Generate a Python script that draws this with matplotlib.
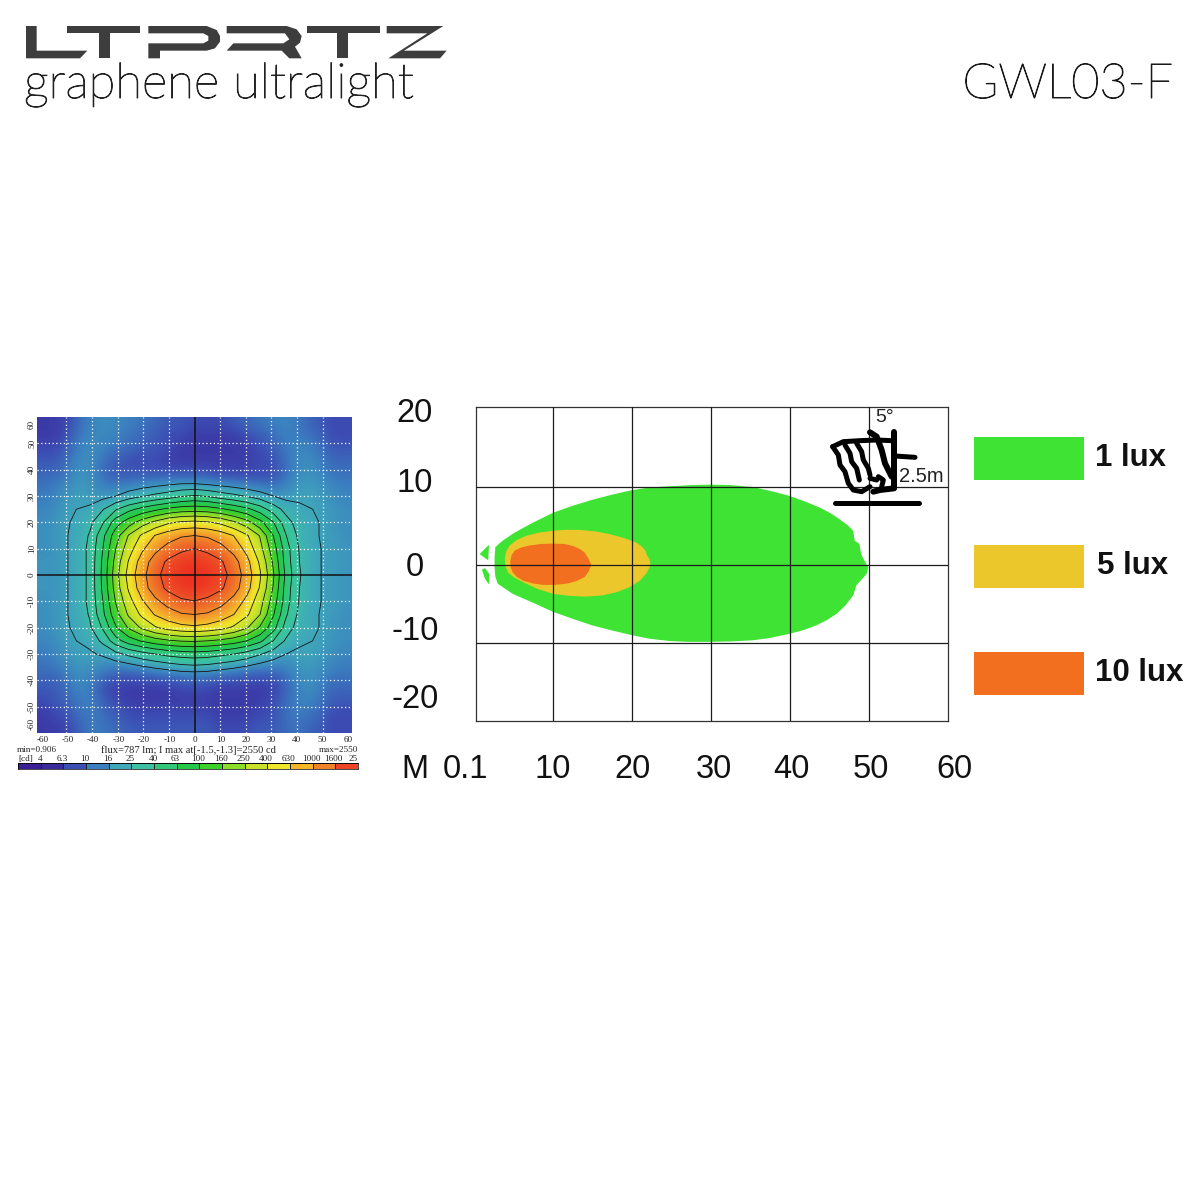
import numpy as np
import matplotlib
matplotlib.use('Agg')
import matplotlib.pyplot as plt
import matplotlib.patheffects as pe
from matplotlib.colors import LinearSegmentedColormap, Normalize, ListedColormap
from matplotlib.patches import Polygon, Rectangle

# candela map, every 5 degrees, top row y=60, left column x=-60
cd_rows = [
    [5, 5, 6, 9, 11, 12, 11, 10, 9, 8, 7, 7, 6, 6, 6, 7, 8, 9, 10, 11, 10, 8, 7, 6, 6],
    [5, 5, 7, 10, 11, 11, 10, 9, 8, 7, 6, 6, 5, 5, 5, 5, 6, 7, 8, 10, 10, 9, 8, 6, 6],
    [6, 6, 8, 11, 12, 10, 9, 8, 7, 7, 6, 5, 5, 5, 5, 5, 5, 6, 7, 9, 11, 11, 9, 7, 7],
    [7, 7, 9, 12, 11, 8, 7, 6, 6, 6, 5, 5, 5, 5, 5, 5, 5, 6, 6, 8, 11, 12, 10, 8, 8],
    [8, 8, 10, 13, 11, 8, 7, 7, 7, 7, 7, 7, 7, 7, 6, 6, 6, 6, 6, 8, 11, 13, 11, 9, 9],
    [9, 10, 12, 14, 12, 10, 10, 11, 12, 13, 14, 15, 15, 14, 13, 12, 11, 10, 9, 10, 13, 14, 13, 11, 10],
    [10, 11, 14, 15, 14, 14, 16, 20, 24, 28, 32, 38, 42, 38, 32, 28, 24, 20, 16, 14, 15, 16, 14, 12, 11],
    [11, 12, 15, 16, 17, 24, 38, 55, 72, 90, 110, 125, 130, 125, 108, 88, 70, 50, 32, 21, 17, 16, 15, 13, 12],
    [12, 13, 15, 17, 22, 38, 80, 130, 200, 280, 370, 430, 450, 420, 360, 270, 190, 115, 65, 30, 20, 17, 15, 13, 12],
    [12, 13, 15, 18, 26, 55, 130, 260, 430, 640, 810, 950, 1000, 940, 800, 620, 420, 240, 100, 40, 22, 17, 15, 14, 12],
    [12, 13, 15, 18, 28, 62, 160, 330, 580, 880, 1180, 1450, 1600, 1420, 1150, 850, 540, 290, 125, 48, 24, 18, 15, 14, 13],
    [13, 13, 15, 18, 28, 68, 190, 420, 780, 1250, 1750, 2100, 2250, 2050, 1700, 1200, 720, 370, 150, 50, 25, 18, 15, 14, 13],
    [13, 13, 15, 18, 28, 70, 210, 480, 860, 1400, 1950, 2350, 2550, 2300, 1900, 1350, 800, 420, 170, 55, 26, 18, 15, 14, 13],
    [13, 13, 15, 18, 28, 68, 195, 430, 800, 1280, 1780, 2150, 2300, 2080, 1720, 1220, 740, 380, 155, 50, 25, 18, 15, 14, 13],
    [12, 13, 15, 18, 28, 62, 165, 340, 600, 900, 1200, 1480, 1580, 1430, 1160, 860, 550, 300, 130, 48, 24, 18, 15, 14, 13],
    [12, 13, 15, 18, 26, 56, 135, 270, 440, 650, 820, 960, 1000, 950, 810, 630, 430, 250, 105, 42, 22, 17, 15, 14, 12],
    [12, 13, 15, 17, 23, 42, 95, 170, 270, 380, 480, 550, 580, 540, 470, 370, 260, 150, 75, 32, 20, 17, 15, 13, 12],
    [11, 12, 15, 16, 18, 28, 52, 80, 105, 130, 150, 165, 170, 160, 145, 125, 100, 70, 40, 23, 17, 16, 15, 13, 12],
    [10, 11, 14, 15, 15, 17, 22, 28, 34, 40, 46, 50, 52, 50, 45, 40, 33, 26, 20, 16, 15, 16, 14, 12, 11],
    [9, 10, 12, 14, 13, 12, 12, 13, 15, 17, 19, 21, 22, 21, 19, 17, 15, 13, 12, 11, 13, 14, 13, 11, 10],
    [8, 8, 10, 12, 10, 8, 7, 7, 7, 8, 8, 9, 9, 9, 8, 8, 7, 7, 7, 8, 11, 13, 11, 9, 9],
    [7, 7, 9, 11, 9, 6, 5, 5, 5, 5, 5, 6, 6, 6, 5, 5, 5, 5, 5, 7, 10, 12, 10, 8, 8],
    [6, 7, 8, 10, 10, 7, 6, 5, 5, 5, 5, 5, 5, 5, 5, 5, 5, 5, 6, 8, 10, 11, 9, 7, 7],
    [5, 6, 7, 9, 10, 8, 7, 6, 6, 6, 6, 6, 6, 6, 5, 5, 5, 6, 6, 8, 10, 9, 8, 6, 6],
    [5, 5, 6, 8, 10, 9, 8, 7, 7, 7, 7, 7, 7, 7, 6, 6, 6, 7, 7, 8, 9, 8, 7, 6, 6],
]
cd_levels = [4, 6.3, 10, 16, 25, 40, 63, 100, 160, 250, 400, 630, 1000, 1600, 2550]
level_colors = ['#3a2a9c', '#3c4fb4', '#3b7fc0', '#3fa8ba', '#3cc2a2', '#30c87a',
                '#24c94a', '#3ed02a', '#8ddc28', '#c8e22a', '#f0e62a', '#f6b62a',
                '#f0822a', '#ee5228', '#ec2c20']
bar_colors = ['#3a1f98', '#3a2a9c', '#3c4fb4', '#3b7fc0', '#3fa8ba', '#3cc2a2', '#30c87a',
              '#24c94a', '#3ed02a', '#8ddc28', '#c8e22a', '#f0e62a', '#f6b62a',
              '#f0822a', '#ee4428']

# illuminance outlines, x in metres, y in metres
lux1_x = [2.7, 3.6, 4.9, 6.2, 7.5, 10, 12.5, 15.1, 17.6, 20, 22.3, 24.8, 27.5, 30, 32.5, 35.3, 37.7, 40, 42, 43.8, 45.2,
          46.3, 47.3, 48, 48.2, 48.8, 49, 49.4, 49.9, 49.7, 48.4, 48, 47, 45.9, 44.7, 43.3, 41.7, 40, 37.5, 35.3,
          32.5, 30, 27, 24.8, 22.2, 20, 17.5, 15, 12.5, 10, 7.5, 4.9, 3, 2.7, 2.6, 2.6]
lux1_y = [2.3, 3.1, 4.0, 4.75, 5.45, 6.7, 7.6, 8.4, 9.05, 9.6, 9.95, 10.1, 10.25, 10.3, 10.25, 10, 9.45, 8.85, 8.1, 7.35,
          6.6, 5.85, 5.1, 4.4, 3.1, 2.7, 1.4, 0.6, -0.3, -1.15, -2.6, -3.9, -5.2, -6.25, -7.05, -7.75, -8.35, -8.8, -9.35,
          -9.65, -9.8, -9.85, -9.85, -9.75, -9.45, -9, -8.4, -7.75, -6.9, -6, -4.85, -3.7, -2.4, -1.5, -0.3, 1]
wedge_up_x = [1.9, 0.7, 1.8]
wedge_up_y = [2.6, 1.4, 0.6]
wedge_down_x = [1.0, 1.4, 1.9, 1.9, 1.4]
wedge_down_y = [-0.6, -0.4, -1.1, -2.5, -1.8]
lux5_x = [3.9, 4.05, 4.5, 5.4, 6.6, 8.2, 10, 11.7, 13.4, 15.4, 17.2, 19, 20.5, 21.2, 21.7, 21.9, 22.2, 22.3, 22.2, 21.8,
          21, 19.7, 18, 16.2, 14.2, 12, 10, 8, 6.2, 5, 4.3, 3.95]
lux5_y = [0.8, 1.7, 2.5, 3.2, 3.75, 4.15, 4.4, 4.52, 4.5, 4.3, 3.95, 3.45, 2.9, 2.4, 1.85, 1.2, 0.8, 0.2, -0.3, -1.1,
          -2, -2.85, -3.5, -3.9, -4.05, -3.95, -3.7, -3.05, -2.2, -1.55, -0.95, -0.1]
lux10_x = [4.6, 4.75, 5.15, 6, 7, 8.5, 10, 11.4, 12.5, 13.4, 14, 14.5, 14.85, 14.5, 14, 13, 11.7, 10.2, 8.7, 7.4, 6.2,
           5.4, 4.9, 4.6]
lux10_y = [0.55, 1.25, 1.85, 2.25, 2.5, 2.7, 2.75, 2.7, 2.45, 2.05, 1.6, 0.8, 0, -0.85, -1.55, -2.05, -2.4, -2.55,
           -2.55, -2.35, -2, -1.5, -0.95, -0.2]
legend_labels = ['1 lux', '5 lux', '10 lux']
legend_colors = ['#3fe333', '#ebc72b', '#f26f1f']
dist_labels = ['M', '0.1', '10', '20', '30', '40', '50', '60']
height_labels = ['20', '10', '0', '-10', '-20']

W = 1200
fig = plt.figure(figsize=(12, 12), dpi=100, facecolor='white')


def px_axes(left, top, right, bottom, **kw):
    return fig.add_axes([left / W, 1 - bottom / W, (right - left) / W, (bottom - top) / W], **kw)


# overlay in picture pixels for logo, labels and the little icon
ov = px_axes(0, 0, W, W)
ov.set_xlim(0, W)
ov.set_ylim(W, 0)
ov.axis('off')
ov.set_zorder(5)

# left panel
ax = px_axes(37, 417, 352, 733)
log_cd = np.log10(np.array(cd_rows, dtype=float))
grid = np.arange(-60, 65, 5)
stops = (np.log10(cd_levels) - np.log10(4)) / (np.log10(2550) - np.log10(4))
cmap = LinearSegmentedColormap.from_list('cd', list(zip(stops, level_colors)))
ax.imshow(log_cd, extent=[-61.5, 61.5, -60, 60], origin='upper', cmap=cmap,
          norm=Normalize(np.log10(4), np.log10(2550)), interpolation='bicubic', aspect='auto')
ax.contour(grid * 61.5 / 60, grid[::-1], log_cd, levels=np.log10(cd_levels[3:-1]),
           colors='#141414', linewidths=0.6)
for v in range(-50, 60, 10):
    if v != 0:
        ax.axvline(v, color='white', lw=0.9, ls=(0, (1, 2)))
        ax.axhline(v, color='white', lw=0.9, ls=(0, (1, 2)))
ax.axvline(0, color='#111111', lw=1.1)
ax.axhline(0, color='#111111', lw=1.1)
ax.set_xlim(-61.5, 61.5)
ax.set_ylim(-60, 60)
ax.set_xticks([])
ax.set_yticks([])
for s in ax.spines.values():
    s.set_visible(False)

small = dict(family='Liberation Serif', fontsize=6.6, color='#222222')
for v in range(-60, 70, 10):
    ov.text(195 + v * 2.545, 740, str(v), ha='center', va='center', **small)
    # the end labels sit pulled inside the frame
    ypos = 575 - v * 2.63
    if abs(v) == 60:
        ypos = 424 if v > 0 else 724
    ov.text(32, ypos, str(v), ha='center', va='center', rotation=90, **small)
ov.text(17, 750, 'min=0.906', ha='left', va='center', **small)
ov.text(101, 750, 'flux=787 lm; I max at[-1.5,-1.3]=2550 cd', ha='left', va='center',
        family='Liberation Serif', fontsize=7.6, color='#222222')
ov.text(358, 750, 'max=2550', ha='right', va='center', **small)
ov.text(18, 759, '[cd]', ha='left', va='center', **small)
for i, v in enumerate(cd_levels):
    lab = '%g' % v if v != 2550 else '25'
    ov.text(40 + i * 22.6 if v != 2550 else 353, 759, lab, ha='center', va='center', **small)

cb = px_axes(18, 763, 358, 769)
cb.pcolormesh(np.arange(16), [0, 1], np.arange(15).reshape(1, 15),
              cmap=ListedColormap(bar_colors), edgecolors='#222222', linewidth=0.4)
cb.set_xticks([])
cb.set_yticks([])
for s in cb.spines.values():
    s.set_linewidth(0.5)

# right panel
ax2 = px_axes(476, 407, 948, 721)
ax2.fill(lux1_x, lux1_y, color=legend_colors[0], lw=0)
ax2.fill(wedge_up_x, wedge_up_y, color=legend_colors[0], lw=0)
ax2.fill(wedge_down_x, wedge_down_y, color=legend_colors[0], lw=0)
ax2.fill(lux5_x, lux5_y, color=legend_colors[1], lw=0)
ax2.fill(lux10_x, lux10_y, color=legend_colors[2], lw=0)
ax2.set_xlim(0.25, 60)
ax2.set_ylim(-20, 20.26)
ax2.set_xticks(range(10, 60, 10))
ax2.set_yticks([-10, 0, 10])
ax2.grid(True, color='#1c1c1c', lw=0.9)
ax2.set_axisbelow(False)
ax2.tick_params(length=0, labelbottom=False, labelleft=False)
for s in ax2.spines.values():
    s.set_color('#333333')
    s.set_linewidth(0.9)

big = dict(family='Liberation Sans', fontsize=23.5, color='#111111')
for lab, x in zip(dist_labels, [415, 466, 553, 632, 714, 791, 871, 954]):
    ov.text(x, 770, lab, ha='center', va='center', **big)
for lab, y in zip(height_labels, [413, 484, 567, 632, 699]):
    ov.text(415, y, lab, ha='center', va='center', **big)

# legend
for lab, col, top, tx in zip(legend_labels, legend_colors, [437, 545, 652], [1095, 1097, 1095]):
    ov.add_patch(Rectangle((974, top), 109.5, 43, color=col, lw=0))
    ov.text(tx, top + 21, lab, ha='left', va='center', family='Liberation Sans',
            fontweight='bold', fontsize=22.5, color='#111111')

# icon
icon_lines = [
    ([45, 297], [308, 308], 5),
    ([222, 222], [95, 265], 6),
    ([225, 285], [168, 172], 5),
    ([150, 170, 185, 195, 215], [97, 110, 150, 190, 230], 6),
    ([38, 70, 120, 170, 215], [140, 125, 122, 120, 122], 5),
    ([38, 55, 60, 75, 85, 100, 125, 150], [140, 165, 195, 215, 250, 270, 275, 260], 5),
    ([75, 90, 95, 110, 118], [135, 160, 185, 205, 240], 5),
    ([110, 125, 130, 145, 150], [130, 155, 180, 205, 225], 5),
    ([160, 180, 222], [275, 270, 265], 6),
    ([175, 190, 185], [230, 240, 260], 5),
    ([150, 170], [235, 240], 5),
]
for xs, ys, w in icon_lines:
    ov.plot(820 + np.array(xs) / 3, 400 + np.array(ys) / 3, color='black', lw=w * 0.72,
            solid_capstyle='round', solid_joinstyle='round')
ov.text(885, 418, '5°', ha='center', va='center', family='Liberation Sans', fontsize=14, color='#222222')
ov.text(899, 477, '2.5m', ha='left', va='center', family='Liberation Sans', fontsize=14.5, color='#222222')

# logo shapes, traced in zoomed pixels
logo = [
    [(78, 48), (110, 48), (110, 122), (262, 122), (240, 145), (78, 145)],
    [(200, 48), (420, 48), (420, 70), (330, 70), (330, 145), (298, 145), (298, 70), (200, 70)],
    [(445, 48), (620, 48), (650, 60), (660, 78), (660, 95), (645, 115), (620, 122), (480, 122), (480, 145),
     (445, 145), (445, 100), (610, 100), (625, 92), (625, 78), (610, 70), (445, 70)],
    [(680, 48), (860, 48), (890, 58), (905, 78), (900, 98), (885, 110), (905, 145), (868, 145), (845, 122),
     (680, 122), (700, 100), (850, 100), (868, 88), (855, 70), (680, 70)],
    [(920, 48), (1140, 48), (1140, 70), (1045, 70), (1045, 145), (1012, 145), (1012, 70), (920, 70)],
    [(1160, 48), (1330, 48), (1212, 122), (1340, 122), (1320, 145), (1165, 145), (1282, 70), (1160, 70)],
]
for shape in logo:
    pts = np.array(shape, dtype=float)
    pts[:, 0] = pts[:, 0] / 3
    pts[:, 1] = 10 + pts[:, 1] / 3
    ov.add_patch(Polygon(pts, closed=True, color='#3d3d3d', lw=0))

# the installed light face is very thin, give it a little stroke
thicker = [pe.withStroke(linewidth=0.7, foreground='#222222')]
ov.text(24, 98, 'graphene ultralight', ha='left', va='baseline', family='Lato', fontweight='light',
        fontsize=35.3, color='#222222', path_effects=thicker)
ov.text(1173, 98, 'GWL03-F', ha='right', va='baseline', family='Lato', fontweight='light',
        fontsize=35, color='#111111', path_effects=thicker)

fig.savefig('out.png', dpi=100)
